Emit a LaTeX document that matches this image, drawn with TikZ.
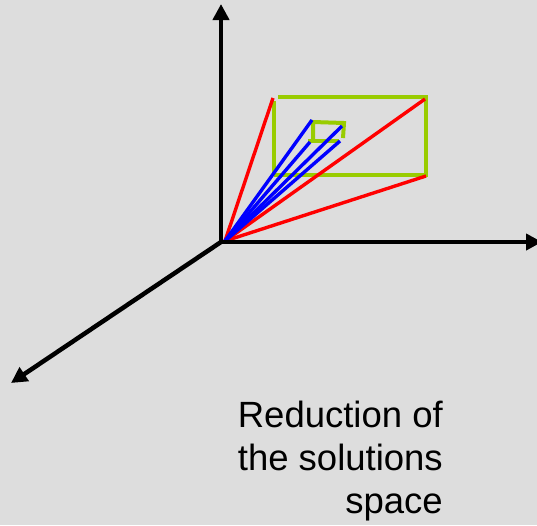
\documentclass[tikz,border=0pt]{standalone}
\usepackage{fontspec}
\setmainfont{Liberation Sans}
\usetikzlibrary{arrows.meta}
\definecolor{bg}{RGB}{221,221,221}
\definecolor{lgreen}{RGB}{153,204,0}
\begin{document}
\begin{tikzpicture}[x=1pt,y=-1pt,
  axis/.style={line width=4.5pt,-{Triangle[length=16pt,width=16pt]}},
  redray/.style={red,line width=3.4pt},
  blueray/.style={blue,line width=3.4pt},
  greenbox/.style={lgreen,line width=4pt}]
\fill[bg] (0,0) rectangle (537,525);
\useasboundingbox (0,0) rectangle (537,525);
\coordinate (O) at (221,242);
\coordinate (R) at (225,241);
\coordinate (yt) at (221,4);
\coordinate (xt) at (542,242);
\coordinate (zt) at (11,383);
% green rectangles
\draw[greenbox] (274,175) -- (274,101);
\draw[greenbox] (278,97) -- (426,97) -- (426,175) -- (274,175);
\draw[greenbox] (313,141) -- (313,122) -- (344,123) -- (343,138);
\draw[greenbox] (308,141) -- (339,141);
% rays
\draw[redray] (R) -- (273,98);
\draw[redray] (R) -- (425,99);
\draw[redray] (R) -- (426,176);
\draw[blueray] (R) -- (312,120);
\draw[blueray] (R) -- (342,126);
\draw[blueray] (R) -- (340,141);
\draw[blueray] (R) -- (310,142);
% axes
\draw[axis] (O) -- (yt);
\draw[axis] (O) -- (xt);
\draw[axis] (O) -- (zt);
\node[anchor=north east,align=right,font=\fontsize{36.5}{43}\selectfont,inner sep=0pt] (lbl) at (443,401) {Reduction of\\the solutions\\space};
\end{tikzpicture}
\end{document}
